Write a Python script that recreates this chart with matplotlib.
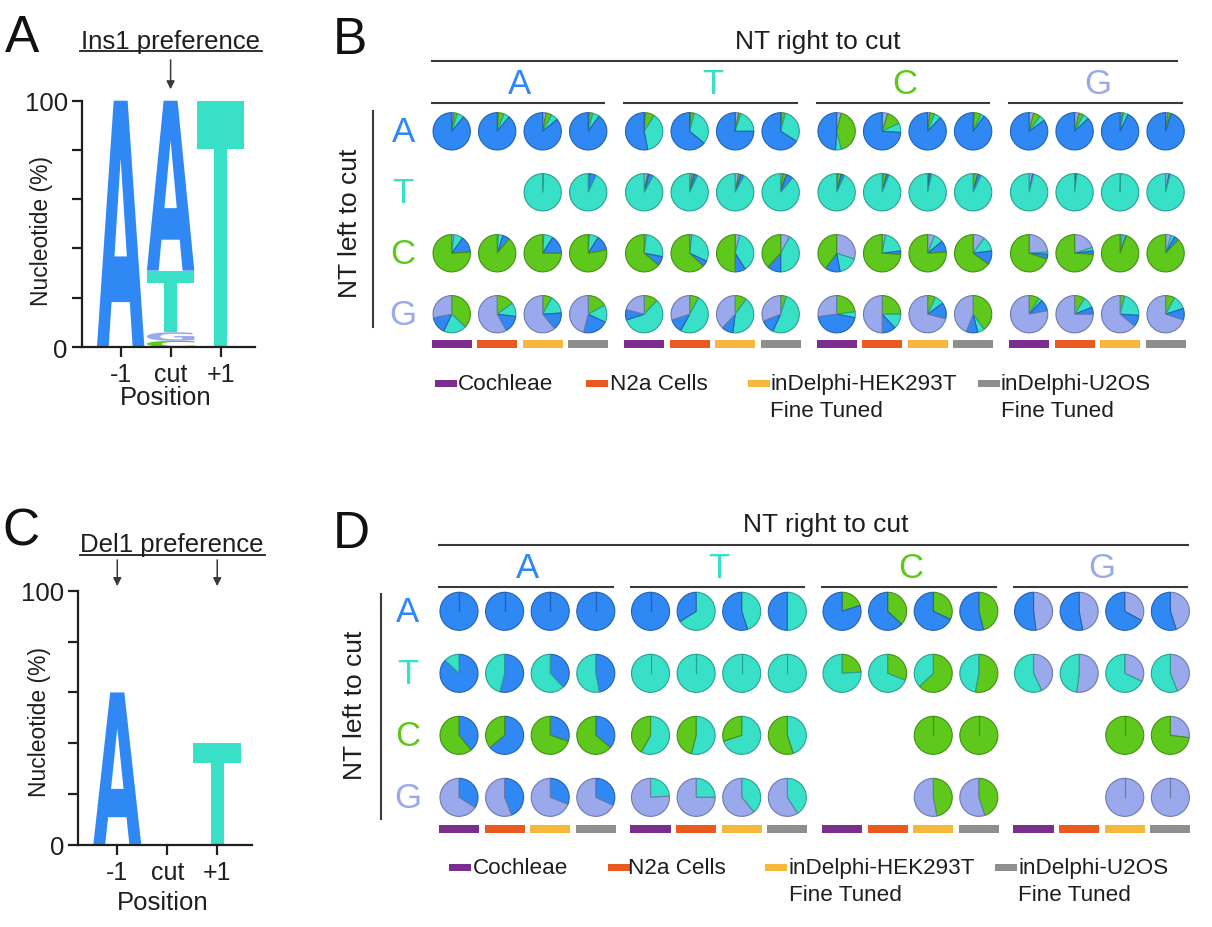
import numpy as np
import matplotlib
matplotlib.use('Agg')
import matplotlib.pyplot as plt
import matplotlib.colors as mcolors
from matplotlib.textpath import TextPath
from matplotlib.font_manager import FontProperties
from matplotlib.patches import PathPatch
from matplotlib.transforms import Affine2D

plt.rcParams['font.family'] = ['Liberation Sans', 'DejaVu Sans']

# ---- data ----
nts = ['A', 'T', 'C', 'G']
samples = ['Cochleae', 'N2a Cells', 'inDelphi-HEK293T\nFine Tuned', 'inDelphi-U2OS\nFine Tuned']
positions = ['-1', 'cut', '+1']

# sequence logo heights (%) per position
ins1_A = [100, 69, 0]
ins1_T = [0, 25, 100]
ins1_C = [0, 2.5, 0]
ins1_G = [0, 3.5, 0]

del1_A = [60, 0, 0]
del1_T = [0, 0, 40]
del1_C = [0, 0, 0]
del1_G = [0, 0, 0]

# pie fractions [A, T, C, G]; 16 per row = 4 right-NT groups x 4 samples
ins1_left_A = [
    [89, 6, 3, 2], [89, 5, 5, 1], [86, 6, 5, 3], [90, 6, 3, 1],
    [53, 38, 8, 1], [64, 32, 3, 1], [75, 20, 2, 3], [66, 30, 3, 1],
    [49, 5, 42, 4], [74, 8, 13, 5], [88, 6, 4, 2], [90, 3, 6, 1],
    [85, 5, 6, 4], [87, 5, 4, 4], [93, 4, 1, 2], [95, 1, 2, 2],
]
ins1_left_T = [
    None, None, [0.7, 99.3, 0, 0], [6, 93, 0, 1],
    [4, 92, 1, 3], [3, 93, 2, 2], [3, 92, 2, 3], [6, 89, 3, 2],
    [3, 93, 3, 1], [2, 94, 3, 1], [2, 96.5, 1, 0.5], [3, 93, 3, 1],
    [1, 96, 0, 3], [1, 98, 0, 1], [0.5, 99.5, 0, 0], [1, 96, 0, 3],
]
ins1_left_C = [
    [14, 8, 76, 2], [6, 4, 89, 1], [16, 8, 75, 1], [13, 8, 78, 1],
    [8, 26, 64, 2], [5, 30, 63, 2], [9, 37, 50, 4], [12, 42, 38, 8],
    [13, 17, 40, 30], [3, 20, 74, 3], [10, 8, 76, 6], [12, 13, 65, 10],
    [4, 2, 70, 24], [3, 3, 74, 20], [0.5, 3, 94.5, 2], [4, 3, 88, 5],
]
ins1_left_G = [
    [15, 20, 37, 28], [15, 12, 15, 58], [15, 16, 8, 61], [22, 15, 17, 46],
    [9, 58, 12, 21], [12, 50, 8, 30], [10, 42, 10, 38], [12, 52, 5, 31],
    [45, 5, 23, 27], [12, 13, 25, 50], [14, 8, 7, 71], [10, 6, 40, 44],
    [10, 3, 9, 78], [6, 10, 9, 75], [10, 22, 4, 64], [10, 12, 8, 70],
]

del1_left_A = [
    [100, 0, 0, 0], [100, 0, 0, 0], [100, 0, 0, 0], [100, 0, 0, 0],
    [100, 0, 0, 0], [34, 66, 0, 0], [55, 45, 0, 0], [50, 50, 0, 0],
    [80, 0, 20, 0], [63, 0, 37, 0], [68, 0, 32, 0], [54, 0, 46, 0],
    [52, 0, 0, 48], [53, 0, 0, 47], [67, 0, 0, 33], [55, 0, 0, 45],
]
del1_left_T = [
    [87, 13, 0, 0], [54, 46, 0, 0], [38, 62, 0, 0], [47, 53, 0, 0],
    [0, 100, 0, 0], [0, 100, 0, 0], [0, 100, 0, 0], [0, 100, 0, 0],
    [0, 76, 24, 0], [0, 69, 31, 0], [0, 37, 63, 0], [0, 47, 53, 0],
    [0, 57, 0, 43], [0, 48, 0, 52], [0, 68, 0, 32], [0, 56, 0, 44],
]
del1_left_C = [
    [39, 0, 61, 0], [64, 0, 36, 0], [30, 0, 70, 0], [36, 0, 64, 0],
    [0, 58, 42, 0], [0, 54, 46, 0], [0, 70, 30, 0], [0, 45, 55, 0],
    None, None, [0, 0, 100, 0], [0, 0, 100, 0],
    None, None, [0, 0, 100, 0], [0, 0, 73, 27],
]
del1_left_G = [
    [34, 0, 0, 66], [44, 0, 0, 56], [31, 0, 0, 69], [32, 0, 0, 68],
    [0, 24, 0, 76], [0, 25, 0, 75], [0, 39, 0, 61], [0, 41, 0, 59],
    None, None, [0, 0, 47, 53], [0, 0, 45, 55],
    None, None, [0, 0, 0, 100], [0, 0, 0, 100],
]

# ---- style ----
nt_colors = {'A': '#2F88F4', 'T': '#38E0C8', 'C': '#5EC81C', 'G': '#9AA9EC'}
edge_colors = {n: tuple(np.array(mcolors.to_rgb(c)) * 0.72) for n, c in nt_colors.items()}
sample_colors = ['#7B2E8F', '#E85A1F', '#F5B83A', '#8E8E8E']
pie_order = ['G', 'C', 'T', 'A']
ink = '#1e1e1e'
line_c = '#3a3a3a'

W, H = 1212, 928
fig = plt.figure(figsize=(W / 100, H / 100), dpi=100)
fig.patch.set_facecolor('white')


def px_axes(x0, y0, x1, y1):
    return fig.add_axes([x0 / W, 1 - y1 / H, (x1 - x0) / W, (y1 - y0) / H])


def draw_letter(ax, letter, xc, y0, h, w, color):
    fp = FontProperties(family='DejaVu Sans', weight='bold')
    tp = TextPath((0, 0), letter, size=1, prop=fp)
    bb = tp.get_extents()
    tr = Affine2D().translate(-bb.x0, -bb.y0).scale(w / bb.width, h / bb.height).translate(xc - w / 2, y0)
    ax.add_patch(PathPatch(tr.transform_path(tp), facecolor=color, edgecolor='none', clip_on=False))


def logo_panel(box, heights, width, title, title_y, uline, arrows):
    ax = px_axes(*box)
    for i in range(len(positions)):
        stack = sorted([(heights[n][i], n) for n in nts if heights[n][i] > 0])
        y0 = 0
        for h, n in stack:
            draw_letter(ax, n, i - 1, y0, h, width, nt_colors[n])
            y0 += h
    ax.set_xlim(-1.78, 1.69)
    ax.set_ylim(0, 100)
    for s in ['top', 'right']:
        ax.spines[s].set_visible(False)
    for s in ['left', 'bottom']:
        ax.spines[s].set_linewidth(1.6)
        ax.spines[s].set_color(ink)
    ax.set_yticks([0, 20, 40, 60, 80, 100])
    ax.set_yticklabels(['0', '', '', '', '', '100'])
    ax.set_xticks([-1, 0, 1])
    ax.set_xticklabels(positions)
    ax.tick_params(axis='y', length=7.5, width=1.6, color=ink, labelsize=18.5, pad=2.5, labelcolor=ink)
    ax.tick_params(axis='x', length=7.5, width=1.6, color=ink, labelsize=18, pad=3.5, labelcolor=ink)
    ax.text(title[1], title_y, title[0], ha='center', va='center', fontsize=18.5, color=ink, clip_on=False)
    ax.plot(uline[0], [uline[1], uline[1]], color=ink, lw=1.3, clip_on=False)
    for xa in arrows[0]:
        ax.annotate('', xy=(xa, arrows[2]), xytext=(xa, arrows[1]),
                    arrowprops=dict(arrowstyle='-|>', color=line_c, lw=1.1, mutation_scale=12),
                    annotation_clip=False)
    return ax


def pie_panel(ox, oy, unit, xlim, ylim, table, geo):
    x0 = ox + xlim[0] * unit
    x1 = ox + xlim[1] * unit
    y0 = oy - ylim[1] * unit
    y1 = oy - ylim[0] * unit
    ax = px_axes(x0, y0, x1, y1)
    gs, rs, rad = geo['gstep'], geo['rstep'], geo['radius']
    for ri, nt in enumerate(nts):
        for k, vals in enumerate(table[nt]):
            if vals is None:
                continue
            g, s = divmod(k, 4)
            cx, cy = g * gs + s, -ri * rs
            d = dict(zip(nts, vals))
            order = [n for n in pie_order if n != nt] + [nt]
            keep = [n for n in order if d[n] > 0]
            wedges, _ = ax.pie([d[n] for n in keep], colors=[nt_colors[n] for n in keep],
                               startangle=90, counterclock=False, center=(cx, cy), radius=rad,
                               wedgeprops=dict(linewidth=0.8))
            for wdg, n in zip(wedges, keep):
                wdg.set_edgecolor(edge_colors[n])
            if len(keep) == 1:
                ax.plot([cx, cx], [cy, cy + rad], color=edge_colors[keep[0]], lw=0.9)
        ax.text(geo['rowlab_x'], -ri * rs, nt, ha='center', va='center', fontsize=25, color=nt_colors[nt])
    # column headers
    ax.text(geo['title_x'], geo['title_y'], 'NT right to cut', ha='center', va='center', fontsize=19, color=ink)
    ax.plot(geo['top_line'], [geo['top_y'], geo['top_y']], color=line_c, lw=1.5)
    for g, nt in enumerate(nts):
        ax.text(g * gs + 1.5, geo['head_y'], nt, ha='center', va='center', fontsize=25, color=nt_colors[nt])
        ax.plot([g * gs + geo['ul'][0], g * gs + geo['ul'][1]], [geo['ul_y'], geo['ul_y']], color=line_c, lw=1.5)
    # row side
    ax.plot([geo['vline_x'], geo['vline_x']], [geo['vline_y'][0], -3 * rs + geo['vline_y'][1]], color=line_c, lw=1.5)
    ax.text(geo['left_x'], -1.5 * rs, 'NT left to cut', rotation=90, ha='center', va='center', fontsize=19, color=ink)
    # sample bars under each column
    for s in range(4):
        xs = [g * gs + s for g in range(4)]
        ax.bar(xs, 0.18, bottom=geo['bar_y'] - 0.09, width=0.88, color=sample_colors[s], edgecolor='none')
    # legend
    for s, lab in enumerate(samples):
        ax.bar([geo['leg_m'][s]], 0.15, bottom=geo['leg_y'] - 0.075, width=0.48, color=sample_colors[s], edgecolor='none')
        for li, line in enumerate(lab.split('\n')):
            ax.text(geo['leg_t'][s], geo['leg_y'] - li * geo['leg_dy'], line, ha='left', va='center',
                    fontsize=16.2, color=ink)
    ax.set_xlim(*xlim)
    ax.set_ylim(*ylim)
    ax.set_aspect('equal')
    ax.axis('off')
    return ax


# ---- panel A ----
logo_panel((81.7, 101.7, 255, 348),
           {'A': ins1_A, 'T': ins1_T, 'C': ins1_C, 'G': ins1_G}, 0.95,
           ('Ins1 preference', 0.0), 124.2, ([-1.81, 1.83], 120.3), ([0], 117.7, 103.5))
fig.text(41.7 / W, 1 - 231 / H, 'Nucleotide (%)', rotation=90, ha='center', va='center',
         fontsize=16.5, color=ink)
fig.text(166 / W, 1 - 398 / H, 'Position', ha='center', va='center', fontsize=18.5, color=ink)

# ---- panel C ----
logo_panel((78.3, 591.7, 251.7, 846),
           {'A': del1_A, 'T': del1_T, 'C': del1_C, 'G': del1_G}, 0.96,
           ('Del1 preference', 0.1), 118.4, ([-1.75, 1.95], 114.0), ([-1, 1], 113.2, 100.7))
fig.text(40 / W, 1 - 722 / H, 'Nucleotide (%)', rotation=90, ha='center', va='center',
         fontsize=16.5, color=ink)
fig.text(163 / W, 1 - 903 / H, 'Position', ha='center', va='center', fontsize=18.5, color=ink)

# ---- panel B ----
geo_b = dict(gstep=4.23, rstep=1.34, radius=0.41, rowlab_x=-1.07, title_x=8.05, title_y=1.98,
             top_line=[-0.44, 15.94], top_y=1.54, head_y=1.04, ul=(-0.44, 3.35), ul_y=0.615,
             vline_x=-1.72, vline_y=(0.446, -0.28), left_x=-2.23, bar_y=-4.675,
             leg_m=[-0.13, 3.2, 6.75, 11.81], leg_t=[0.14, 3.48, 7.0, 12.07], leg_y=-5.55, leg_dy=0.59)
pie_panel(451.7, 132.3, 45.5, (-3.0, 16.6), (-6.6, 2.45),
          {'A': ins1_left_A, 'T': ins1_left_T, 'C': ins1_left_C, 'G': ins1_left_G}, geo_b)

# ---- panel D ----
geo_d = dict(gstep=4.2, rstep=1.36, radius=0.417, rowlab_x=-1.12, title_x=8.05, title_y=1.91,
             top_line=[-0.43, 15.99], top_y=1.454, head_y=0.95, ul=(-0.43, 3.37), ul_y=0.526,
             vline_x=-1.72, vline_y=(0.38, -0.475), left_x=-2.28, bar_y=-4.77,
             leg_m=[0.02, 3.51, 6.95, 11.99], leg_t=[0.31, 3.71, 7.23, 12.26], leg_y=-5.61, leg_dy=0.59)
pie_panel(459, 612.3, 45.6, (-3.0, 16.5), (-6.7, 2.35),
          {'A': del1_left_A, 'T': del1_left_T, 'C': del1_left_C, 'G': del1_left_G}, geo_d)

# panel letters
for lab, x, y in [('A', 5, 39), ('B', 333, 40), ('C', 2, 532), ('D', 333, 535)]:
    fig.text(x / W, 1 - y / H, lab, ha='left', va='center', fontsize=37, color='#111111')

fig.savefig('out.png', dpi=100, facecolor='white')
